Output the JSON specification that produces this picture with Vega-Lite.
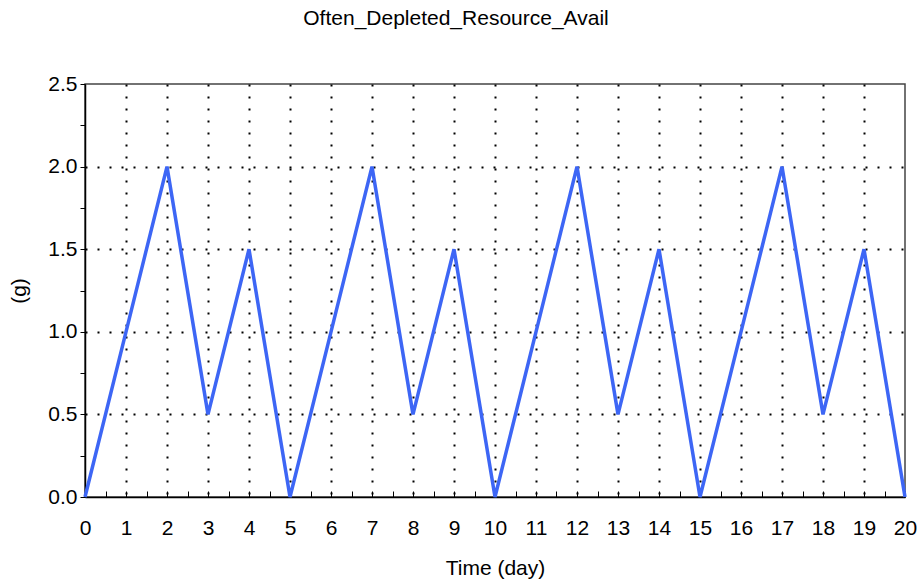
{
  "$schema": "https://vega.github.io/schema/vega-lite/v6.json",
  "autosize": "none",
  "width": 820,
  "height": 413,
  "padding": {"left": 85, "top": 84, "right": 15, "bottom": 86},
  "title": {"text": "Often_Depleted_Resource_Avail", "font": "Liberation Sans", "fontSize": 21, "fontWeight": "normal", "color": "#000", "anchor": "middle", "dx": -39, "offset": 44},
  "config": {
    "view": {"stroke": "#444", "strokeWidth": 1.5},
    "font": "Liberation Sans"
  },
  "data": {"values": [
    {"t": 0, "v": 0}, {"t": 1, "v": 1}, {"t": 2, "v": 2}, {"t": 3, "v": 0.5}, {"t": 4, "v": 1.5},
    {"t": 5, "v": 0}, {"t": 6, "v": 1}, {"t": 7, "v": 2}, {"t": 8, "v": 0.5}, {"t": 9, "v": 1.5},
    {"t": 10, "v": 0}, {"t": 11, "v": 1}, {"t": 12, "v": 2}, {"t": 13, "v": 0.5}, {"t": 14, "v": 1.5},
    {"t": 15, "v": 0}, {"t": 16, "v": 1}, {"t": 17, "v": 2}, {"t": 18, "v": 0.5}, {"t": 19, "v": 1.5},
    {"t": 20, "v": 0}
  ]},
  "mark": {"type": "line", "color": "#3d66f5", "strokeWidth": 3.5, "clip": false},
  "encoding": {
    "x": {
      "field": "t", "type": "quantitative",
      "scale": {"domain": [0, 20], "nice": false, "zero": false},
      "axis": {
        "title": "Time (day)", "titleFont": "Liberation Sans", "titleFontSize": 21, "titleFontWeight": "normal", "titleColor": "#000", "titlePadding": 19,
        "values": [0,0.5,1,1.5,2,2.5,3,3.5,4,4.5,5,5.5,6,6.5,7,7.5,8,8.5,9,9.5,10,10.5,11,11.5,12,12.5,13,13.5,14,14.5,15,15.5,16,16.5,17,17.5,18,18.5,19,19.5,20],
        "labelExpr": "datum.value % 1 === 0 ? datum.value : ''",
        "labelFont": "Liberation Sans", "labelFontSize": 21, "labelColor": "#000", "labelPadding": 26, "labelFlush": false, "labelOverlap": false,
        "tickSize": -6, "tickColor": "#000", "tickWidth": 1,
        "domain": true, "domainColor": "#000", "domainWidth": 1.5,
        "grid": true,
        "gridColor": "#000",
        "gridOpacity": {"condition": {"test": "datum.value % 1 === 0 && datum.value > 0 && datum.value < 20", "value": 1}, "value": 0},
        "gridDash": [2, 10], "gridWidth": 2
      }
    },
    "y": {
      "field": "v", "type": "quantitative",
      "scale": {"domain": [0, 2.5], "nice": false},
      "axis": {
        "title": "(g)", "titleFont": "Liberation Sans", "titleFontSize": 21, "titleFontWeight": "normal", "titleColor": "#000", "titlePadding": 18,
        "values": [0,0.25,0.5,0.75,1,1.25,1.5,1.75,2,2.25,2.5],
        "labelExpr": "(datum.value * 2) % 1 === 0 ? format(datum.value, '.1f') : ''",
        "labelFont": "Liberation Sans", "labelFontSize": 21, "labelColor": "#000", "labelPadding": 3, "labelFlush": false, "labelOverlap": false,
        "tickSize": 5, "tickColor": "#000", "tickWidth": 1,
        "domain": true, "domainColor": "#000", "domainWidth": 1.5,
        "grid": true,
        "gridColor": "#000",
        "gridOpacity": {"condition": {"test": "(datum.value * 2) % 1 === 0 && datum.value > 0 && datum.value < 2.5", "value": 1}, "value": 0},
        "gridDash": [2, 10], "gridWidth": 2
      }
    }
  }
}
